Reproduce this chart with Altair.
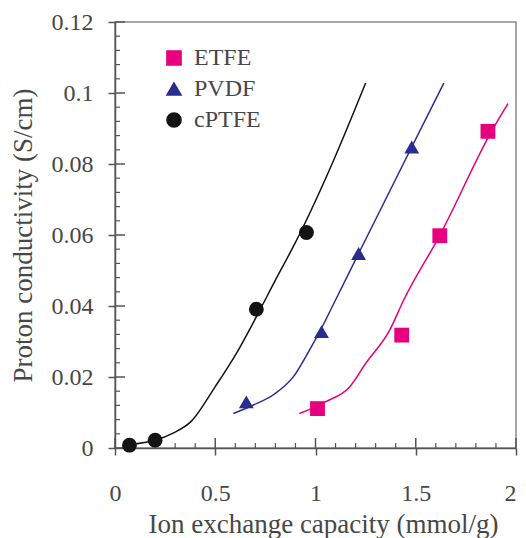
import altair as alt
import pandas as pd

series_names = ["ETFE", "PVDF", "cPTFE"]

# measured points
etfe_x = [1.01, 1.43, 1.62, 1.86]
etfe_y = [0.0111, 0.0318, 0.0598, 0.0892]
pvdf_x = [0.655, 1.03, 1.215, 1.48]
pvdf_y = [0.0130, 0.0328, 0.0548, 0.0848]
cptfe_x = [0.072, 0.20, 0.705, 0.955]
cptfe_y = [0.0008, 0.0022, 0.0391, 0.0607]

# fitted curves
etfe_fit_x = [0.92, 1.05, 1.17, 1.25, 1.37, 1.44, 1.62, 1.88, 1.96]
etfe_fit_y = [0.0097, 0.0130, 0.0172, 0.0238, 0.0332, 0.0417, 0.0599, 0.0894, 0.0970]
pvdf_fit_x = [0.59, 0.69, 0.79, 0.89, 0.97, 1.02, 1.10, 1.215, 1.48, 1.64]
pvdf_fit_y = [0.0097, 0.0121, 0.0150, 0.0201, 0.0276, 0.0327, 0.0417, 0.0548, 0.0848, 0.1028]
cptfe_fit_x = [0.072, 0.20, 0.29, 0.38, 0.50, 0.61, 0.71, 0.80, 0.90, 1.09, 1.25]
cptfe_fit_y = [0.0010, 0.0022, 0.0042, 0.0075, 0.0173, 0.0271, 0.0375, 0.0473, 0.0579, 0.0810, 0.1028]

x_major = [0, 0.5, 1, 1.5, 2]
y_major = [0, 0.02, 0.04, 0.06, 0.08, 0.1, 0.12]
x_minor = [round(i * 0.1, 2) for i in range(21) if i % 5 != 0]
y_minor = [round(i * 0.004, 3) for i in range(31) if i % 5 != 0]

point_colors = ["#e6007e", "#2b2d8c", "#141414"]
shapes = ["square", "triangle-up", "circle"]

pt_rows = []
for name, xs, ys in [("ETFE", etfe_x, etfe_y), ("PVDF", pvdf_x, pvdf_y), ("cPTFE", cptfe_x, cptfe_y)]:
    for a, b in zip(xs, ys):
        pt_rows.append({"series": name, "x": a, "y": b})
pt_df = pd.DataFrame(pt_rows)

fit_rows = []
for name, xs, ys in [("ETFE", etfe_fit_x, etfe_fit_y), ("PVDF", pvdf_fit_x, pvdf_fit_y), ("cPTFE", cptfe_fit_x, cptfe_fit_y)]:
    for a, b in zip(xs, ys):
        fit_rows.append({"series": name, "x": a, "y": b})
fit_df = pd.DataFrame(fit_rows)

W, H = 401, 426
FONT = "Liberation Serif"
TXT = "#474747"
AX = "#555555"

XS = alt.Scale(domain=[0, 2], nice=False, zero=False)
YS = alt.Scale(domain=[0, 0.12], nice=False, zero=False)
CS = alt.Scale(domain=series_names, range=point_colors)
SS = alt.Scale(domain=series_names, range=shapes)

main_x_axis = alt.Axis(values=x_major, format=".1~f", tickSize=7, tickColor=AX, tickWidth=1.5,
                       domainColor=AX, domainWidth=1.5, labelFont=FONT, labelFontSize=24,
                       labelColor=TXT, labelPadding=26, labelFlush=False, labelOverlap=False,
                       labelAlign={"condition": {"test": "datum.value >= 2", "value": "right"}, "value": "center"},
                       title="Ion exchange capacity (mmol/g)", titleFont=FONT, titleFontSize=27,
                       titleFontWeight="normal", titleColor=TXT, titleBaseline="alphabetic",
                       titleX=208, titleY=84, grid=False)
main_y_axis = alt.Axis(values=y_major, format=".2~f", tickSize=7, tickColor=AX, tickWidth=1.5,
                       domainColor=AX, domainWidth=1.5, labelFont=FONT, labelFontSize=24,
                       labelColor=TXT, labelPadding=15, labelFlush=False, labelOverlap=False,
                       title="Proton conductivity (S/cm)", titleFont=FONT, titleFontSize=27,
                       titleFontWeight="normal", titleColor=TXT, titleBaseline="alphabetic",
                       titleX=-84, titleY=213, grid=False)

leg = alt.Legend(title=None, orient="none", legendX=47, legendY=24,
                 labelFont=FONT, labelFontSize=24, labelColor=TXT, symbolSize=200,
                 rowPadding=7, labelOffset=8, symbolType="circle")

# tick positions along both axes (inner part of major ticks, inward minor ticks)
xmaj_df = pd.DataFrame({"tx": x_major, "ty": [0] * len(x_major)})
xmin_df = pd.DataFrame({"tx": x_minor, "ty": [0] * len(x_minor)})
ymaj_df = pd.DataFrame({"tx": [0] * len(y_major), "ty": y_major})
ymin_df = pd.DataFrame({"tx": [0] * len(y_minor), "ty": y_minor})

lines = alt.Chart(fit_df).mark_line(interpolate="monotone", strokeWidth=1.5).encode(
    x=alt.X("x:Q", scale=XS, axis=main_x_axis),
    y=alt.Y("y:Q", scale=YS, axis=main_y_axis),
    color=alt.Color("series:N", scale=CS, legend=leg),
)

points = alt.Chart(pt_df).mark_point(filled=True, opacity=1, size=220).encode(
    x=alt.X("x:Q", scale=XS, axis=main_x_axis),
    y=alt.Y("y:Q", scale=YS, axis=main_y_axis),
    color=alt.Color("series:N", scale=CS, legend=leg),
    shape=alt.Shape("series:N", scale=SS, legend=leg),
)

xmaj = alt.Chart(xmaj_df).mark_rule(color=AX, strokeWidth=1.5).encode(
    x=alt.X("tx:Q", scale=XS, axis=main_x_axis),
    y=alt.Y("ty:Q", scale=YS, axis=main_y_axis),
    y2=alt.value(H - 10),
)
xmin = alt.Chart(xmin_df).mark_rule(color=AX, strokeWidth=1.2).encode(
    x=alt.X("tx:Q", scale=XS, axis=main_x_axis),
    y=alt.Y("ty:Q", scale=YS, axis=main_y_axis),
    y2=alt.value(H - 5),
)
ymaj = alt.Chart(ymaj_df).mark_rule(color=AX, strokeWidth=1.5).encode(
    x=alt.X("tx:Q", scale=XS, axis=main_x_axis),
    x2=alt.value(10),
    y=alt.Y("ty:Q", scale=YS, axis=main_y_axis),
)
ymin = alt.Chart(ymin_df).mark_rule(color=AX, strokeWidth=1.2).encode(
    x=alt.X("tx:Q", scale=XS, axis=main_x_axis),
    x2=alt.value(5),
    y=alt.Y("ty:Q", scale=YS, axis=main_y_axis),
)

chart = alt.layer(xmaj, xmin, ymaj, ymin, lines, points).properties(
    width=W, height=H,
    background="white",
    autosize=alt.AutoSizeParams(type="none"),
    padding={"left": 107, "top": 14, "right": 2, "bottom": 90},
).configure_view(
    stroke="#8a8a8a", strokeWidth=1.5
)

chart.save("out.html", embed_options={"renderer": "svg", "actions": False})
